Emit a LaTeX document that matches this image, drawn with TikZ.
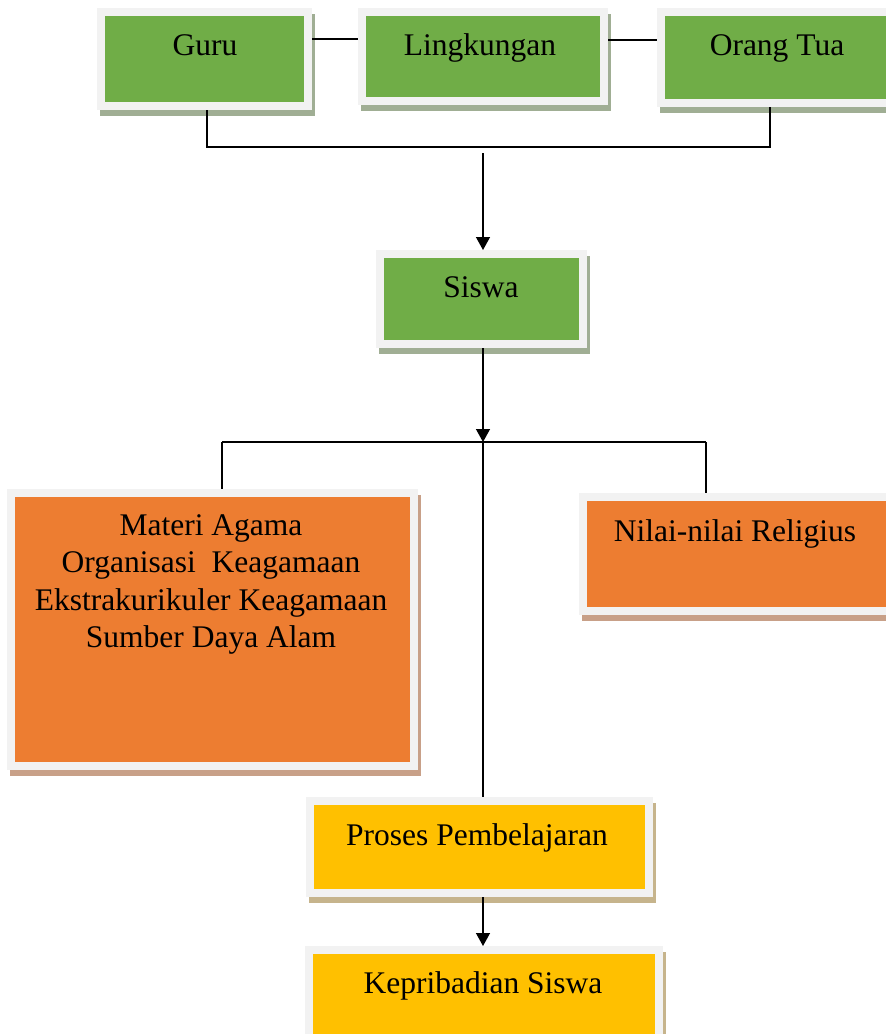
\documentclass[tikz,border=0pt]{standalone}
\usepackage{fontspec}
\setmainfont{Liberation Serif}
\usetikzlibrary{shadows,arrows.meta}
\definecolor{gfill}{HTML}{70AD47}
\definecolor{ofill}{HTML}{ED7D31}
\definecolor{yfill}{HTML}{FFC000}
\definecolor{bcol}{HTML}{F2F2F2}
\definecolor{gshad}{HTML}{A0AE94}
\definecolor{oshad}{HTML}{C8A088}
\definecolor{yshad}{HTML}{C6B48C}
\tikzset{
  box/.style 2 args={rectangle, fill=bcol, inner sep=0pt, outer sep=0pt,
    drop shadow={shadow xshift=3pt, shadow yshift=-6pt, fill=#2, opacity=1},
    path picture={\fill[#1] ([shift={(8pt,-8pt)}]path picture bounding box.north west)
      rectangle ([shift={(-8pt,8pt)}]path picture bounding box.south east);}},
  lbl/.style={anchor=base, inner sep=0pt, font=\fontsize{31.5}{37}\selectfont},
  conn/.style={line width=1.3pt, black},
  arr/.style={conn, -{Triangle[width=14pt,length=13pt]}}
}
\begin{document}
\begin{tikzpicture}[x=1pt,y=-1pt]
\useasboundingbox (0,0) rectangle (886,1034);
% boxes
\node[box={gfill}{gshad}, minimum width=215pt, minimum height=102pt] (guru) at (204.5,59) {};
\node[box={gfill}{gshad}, minimum width=250pt, minimum height=97pt] (ling) at (483,56.5) {};
\node[box={gfill}{gshad}, minimum width=238pt, minimum height=99pt] (orang) at (776,57.5) {};
\node[box={gfill}{gshad}, minimum width=211pt, minimum height=98pt] (siswa) at (481.5,299) {};
\node[box={ofill}{oshad}, minimum width=411pt, minimum height=281pt] (materi) at (212.5,629.5) {};
\node[box={ofill}{oshad}, minimum width=316pt, minimum height=122pt] (nilai) at (737,554) {};
\node[box={yfill}{yshad}, minimum width=347pt, minimum height=100pt] (proses) at (479.5,847) {};
\node[box={yfill}{yshad}, minimum width=358pt, minimum height=96pt] (kep) at (484,994) {};
% labels
\node[lbl] (guruT) at (205,55) {Guru};
\node[lbl] (lingT) at (480,55) {Lingkungan};
\node[lbl] (orangT) at (777,55) {Orang Tua};
\node[lbl] (siswaT) at (481,297) {Siswa};
\node[lbl] (m1) at (211,535) {Materi Agama};
\node[lbl] (m2) at (211,572) {Organisasi\ \ Keagamaan};
\node[lbl] (m3) at (211,610) {Ekstrakurikuler Keagamaan};
\node[lbl] (m4) at (211,647) {Sumber Daya Alam};
\node[lbl] (nilaiT) at (735,541) {Nilai-nilai Religius};
\node[lbl] (prosesT) at (477,845) {Proses Pembelajaran};
\node[lbl] (kepT) at (483,993) {Kepribadian Siswa};
% coordinates
\coordinate (busL) at (207,147);
\coordinate (busR) at (770,147);
\coordinate (a1) at (483,153);
\coordinate (hub) at (483,442);
\coordinate (hubL) at (222,442);
\coordinate (hubR) at (706,442);
% connectors
\draw[conn] ([yshift=20pt]guru.east) -- ([yshift=20pt]guru.east -| ling.west);
\draw[conn] ([yshift=16.5pt]ling.east) -- ([yshift=16.5pt]ling.east -| orang.west);
\draw[conn] (busL |- guru.south) -- (busL) -- (busR) -- (busR |- orang.south);
\draw[arr] (a1) -- (a1 |- siswa.north);
\draw[arr] (hub |- siswa.south) -- (hub);
\draw[conn] (hubL) -- (hubR);
\draw[conn] (hubL) -- (hubL |- materi.north);
\draw[conn] (hubR) -- (hubR |- nilai.north);
\draw[conn] (hub) -- (hub |- proses.north);
\draw[arr] (hub |- proses.south) -- (hub |- kep.north);
\end{tikzpicture}
\end{document}
